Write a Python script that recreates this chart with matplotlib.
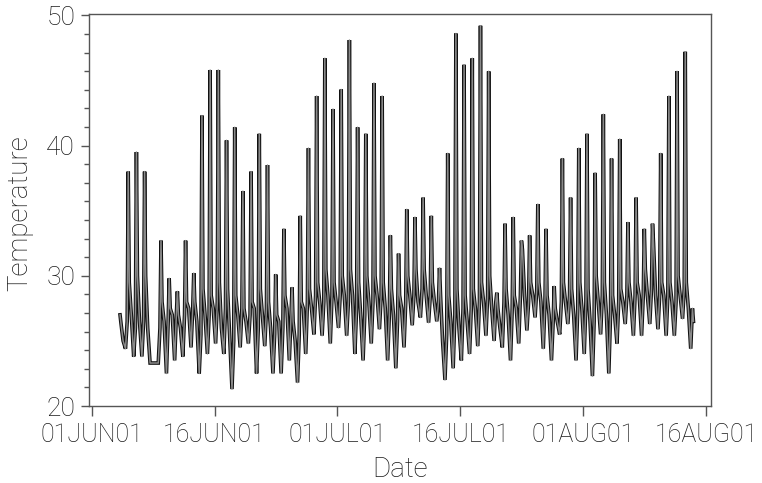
import numpy as np
import matplotlib
matplotlib.use("Agg")
import matplotlib.pyplot as plt
from matplotlib.ticker import MultipleLocator, FixedLocator

# Readings per day, starting at day index 3 (days after 01JUN01)
first_day = 3
reading_hours = [3, 8, 11, 14, 20]   # night low, morning, afternoon peak, late afternoon, evening

low = [np.nan, 24.4, 23.8, 23.8, 23.3, 23.3, 22.5, 23.5, 23.8, 24.5,
       22.5, 24.0, 24.8, 24.0, 21.3, 24.5, 24.8, 22.5, 24.6, 22.5,
       22.5, 23.5, 21.8, 24.0, 25.5, 25.4, 24.8, 26.0, 25.4, 24.0,
       23.5, 24.8, 25.9, 23.5, 22.9, 24.5, 26.2, 26.8, 26.4, 26.5,
       22.0, 22.9, 23.5, 24.0, 24.6, 25.4, 25.0, 24.5, 23.5, 24.8,
       25.8, 26.8, 24.4, 23.5, 25.5, 26.3, 23.5, 24.0, 22.3, 25.5,
       22.5, 24.8, 26.3, 25.4, 25.4, 26.3, 25.9, 25.4, 25.4, 26.7,
       24.4]
morning = [np.nan, 26.5, 26.0, 26.5, 23.3, 26.0, 26.5, 27.0, 27.0, 27.5,
           25.5, 27.0, 28.0, 27.5, 25.0, 27.5, 27.0, 26.0, 27.5, 25.5,
           26.0, 27.0, 25.5, 28.0, 28.5, 28.0, 28.5, 28.5, 28.0, 27.5,
           27.0, 28.0, 28.5, 27.0, 26.5, 28.0, 28.5, 29.0, 28.5, 28.0,
           25.5, 27.0, 27.5, 27.5, 28.0, 28.5, 28.0, 28.0, 27.5, 28.5,
           28.0, 29.0, 28.0, 26.5, 28.0, 28.5, 27.5, 28.0, 26.5, 28.5,
           27.0, 28.0, 28.5, 28.5, 28.5, 29.0, 28.5, 28.5, 28.0, 29.0,
           27.5]
peak = [27.0, 38.0, 39.5, 38.0, 23.3, 32.7, 29.8, 28.8, 32.7, 30.2,
        42.3, 45.8, 45.8, 40.4, 41.4, 36.5, 38.0, 40.9, 38.5, 30.1,
        33.6, 29.1, 34.6, 39.8, 43.8, 46.7, 42.8, 44.3, 48.1, 41.4,
        40.9, 44.8, 43.8, 33.1, 31.7, 35.1, 34.5, 36.0, 34.6, 30.6,
        39.4, 48.6, 46.2, 46.7, 49.2, 45.7, 28.7, 34.0, 34.5, 32.7,
        33.1, 35.5, 33.6, 29.2, 39.0, 36.0, 39.8, 40.9, 37.9, 42.4,
        39.0, 40.5, 34.1, 36.0, 33.6, 34.0, 39.4, 43.8, 45.7, 47.2,
        26.5]
late = [26.3, 29.5, 30.0, 30.0, 23.3, 28.0, 27.5, 27.0, 28.0, 28.0,
        29.0, 28.5, 29.5, 29.0, 28.5, 27.5, 28.0, 29.0, 28.0, 27.0,
        28.5, 26.5, 28.0, 29.0, 29.5, 30.5, 29.5, 30.0, 30.5, 29.5,
        30.0, 30.0, 29.5, 29.0, 28.5, 30.0, 30.5, 30.5, 29.5, 28.5,
        28.5, 29.0, 28.5, 29.0, 29.5, 30.0, 27.5, 29.0, 28.5, 32.0,
        29.5, 29.5, 28.5, 27.5, 29.5, 29.0, 29.5, 29.0, 30.0, 29.5,
        28.5, 29.0, 29.5, 29.5, 30.5, 32.5, 29.5, 29.5, 30.0, 29.5,
        np.nan]
evening = [25.0, 27.0, 26.5, 26.0, 23.3, 26.5, 27.0, 26.0, 27.5, 26.5,
           27.0, 27.5, 26.0, 25.5, 27.0, 26.5, 27.5, 27.0, 26.0, 26.5,
           27.5, 25.0, 27.5, 27.5, 28.0, 28.5, 28.0, 28.5, 28.5, 27.0,
           28.0, 28.5, 27.5, 27.0, 27.5, 28.5, 28.0, 28.5, 28.0, 25.0,
           26.5, 26.0, 26.5, 27.5, 28.0, 27.5, 26.0, 27.0, 27.5, 28.5,
           28.5, 28.0, 27.0, 26.5, 28.0, 27.0, 27.5, 26.5, 28.0, 27.0,
           27.0, 28.0, 28.0, 28.5, 28.5, 28.5, 28.5, 28.0, 28.5, 27.5,
           np.nan]

tick_days = [0, 15, 30, 45, 60, 75]
tick_labels = ["01JUN01", "16JUN01", "01JUL01", "16JUL01", "01AUG01", "16AUG01"]

# Assemble the time series (time in days after 01JUN01)
table = np.array([low, morning, peak, late, evening]).T
days = first_day + np.arange(table.shape[0])
t = (days[:, None] + np.array(reading_hours)[None, :] / 24.0).ravel()
temp = table.ravel()
ok = ~np.isnan(temp)
t, temp = t[ok], temp[ok]

plt.rcParams["font.family"] = ["Roboto", "DejaVu Sans"]
plt.rcParams["font.weight"] = "light"
plt.rcParams["axes.labelweight"] = "light"

fig = plt.figure(figsize=(7.62, 4.83), dpi=100)
W, H = 762, 483
ax = fig.add_axes([89 / W, 1 - 406 / H, (711 - 89) / W, (406 - 14) / H])

ax.plot(t, temp, color="#111111", lw=2.6, solid_joinstyle="miter")
ax.plot(t, temp, color="#8a8a8a", lw=1.1)

ax.set_xlim(-0.33, 75.6)
ax.set_ylim(20, 50.1)

frame_col = "#555555"
for s in ax.spines.values():
    s.set_color(frame_col)
    s.set_linewidth(1.0)

ax.yaxis.set_major_locator(FixedLocator([20, 30, 40, 50]))
ax.yaxis.set_minor_locator(MultipleLocator(10 / 7))
ax.xaxis.set_major_locator(FixedLocator(tick_days))
ax.set_xticklabels(tick_labels)

txt_col = "#1a1a1a"
ax.tick_params(axis="y", which="major", direction="out", length=6, width=1,
               color=frame_col, labelsize=19, labelcolor=txt_col, pad=4)
ax.tick_params(axis="y", which="minor", direction="out", length=3.5, width=1,
               color=frame_col)
ax.tick_params(axis="x", which="major", direction="out", length=7, width=1,
               color=frame_col, labelsize=18, labelcolor=txt_col, pad=5)

ax.set_xlabel("Date", fontsize=20, fontweight="light", color=txt_col)
ax.set_ylabel("Temperature", fontsize=20, fontweight="light", color=txt_col)
ax.xaxis.set_label_coords(0.5, -0.163)
ax.xaxis.label.set_va("center")
ax.yaxis.set_label_coords(-0.111, 0.492)
ax.yaxis.label.set_va("center")

fig.savefig("out.png", dpi=100)
